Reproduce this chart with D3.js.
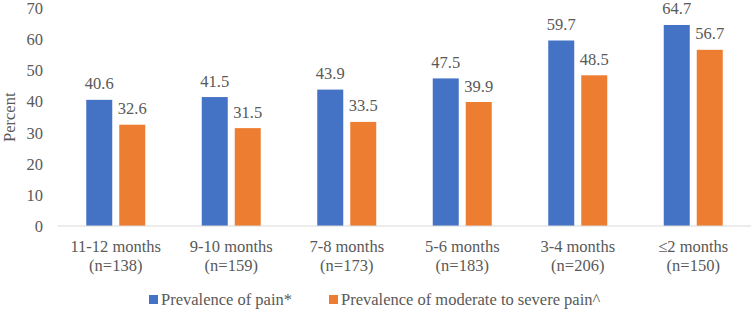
<!DOCTYPE html>
<html>
<head>
<meta charset="utf-8">
<script src="https://cdn.jsdelivr.net/npm/d3@7"></script>
<style>
  body { margin: 0; background: #fff; }
</style>
</head>
<body>
<div id="chart"></div>
<script>
const categories = ["11-12 months", "9-10 months", "7-8 months", "5-6 months", "3-4 months", "\u22642 months"];
const sampleSizes = ["(n=138)", "(n=159)", "(n=173)", "(n=183)", "(n=206)", "(n=150)"];
const painValues = [40.6, 41.5, 43.9, 47.5, 59.7, 64.7];
const severeValues = [32.6, 31.5, 33.5, 39.9, 48.5, 56.7];
const seriesNames = ["Prevalence of pain*", "Prevalence of moderate to severe pain^"];
const yTicks = [0, 10, 20, 30, 40, 50, 60, 70];

const width = 752, height = 309;
const margin = { top: 8.5, right: 1, bottom: 83, left: 58 };
const colors = ["#4472C4", "#ED7D31"];
const fontFam = "'Liberation Serif', 'Times New Roman', 'DejaVu Serif', serif";

const svg = d3.select("#chart")
    .append("svg")
    .attr("width", width)
    .attr("height", height)
    .attr("font-family", fontFam)
    .attr("font-size", 16.5)
    .attr("fill", "#595959");

const xScale = d3.scaleBand()
    .domain(categories)
    .range([margin.left, width - margin.right])
    .paddingInner(0)
    .paddingOuter(0);

const yScale = d3.scaleLinear()
    .domain([0, 70])
    .range([height - margin.bottom, margin.top]);

const barW = 26, gap = 7;

// y tick labels, no axis line
svg.append("g")
    .selectAll("text")
    .data(yTicks)
    .join("text")
    .attr("x", 43)
    .attr("y", d => yScale(d))
    .attr("dy", "0.35em")
    .attr("text-anchor", "end")
    .text(d => d);

svg.append("text")
    .attr("transform", `translate(15, ${(yScale(0) + yScale(70)) / 2}) rotate(-90)`)
    .attr("text-anchor", "middle")
    .text("Percent");

const series = [painValues, severeValues];

series.forEach((vals, s) => {
    const g = svg.append("g");
    const xPos = (d, i) => {
        const c = xScale(categories[i]) + xScale.bandwidth() / 2;
        return s === 0 ? c - gap / 2 - barW : c + gap / 2;
    };
    g.selectAll("rect")
        .data(vals)
        .join("rect")
        .attr("x", xPos)
        .attr("y", d => yScale(d))
        .attr("width", barW)
        .attr("height", d => yScale(0) - yScale(d))
        .attr("fill", colors[s]);
    g.selectAll("text")
        .data(vals)
        .join("text")
        .attr("x", (d, i) => xPos(d, i) + barW / 2)
        .attr("y", d => yScale(d) - 10.5)
        .attr("text-anchor", "middle")
        .text(d => d.toFixed(1));
});

// baseline
svg.append("line")
    .attr("x1", margin.left)
    .attr("x2", width - margin.right)
    .attr("y1", yScale(0))
    .attr("y2", yScale(0))
    .attr("stroke", "#d9d9d9")
    .attr("stroke-width", 1);

// category labels
const xLab = svg.append("g");
categories.forEach((c, i) => {
    const cx = xScale(c) + xScale.bandwidth() / 2;
    const t = xLab.append("text")
        .attr("x", cx)
        .attr("text-anchor", "middle");
    t.append("tspan").attr("x", cx).attr("y", 252).text(c);
    t.append("tspan").attr("x", cx).attr("y", 271).text(sampleSizes[i]);
});

// legend
const legend = svg.append("g");
const legendX = [149, 329];
seriesNames.forEach((name, i) => {
    legend.append("rect")
        .attr("x", legendX[i])
        .attr("y", 295)
        .attr("width", 9)
        .attr("height", 9)
        .attr("fill", colors[i]);
    legend.append("text")
        .attr("x", legendX[i] + 12)
        .attr("y", 305)
        .text(name);
});
</script>
</body>
</html>
